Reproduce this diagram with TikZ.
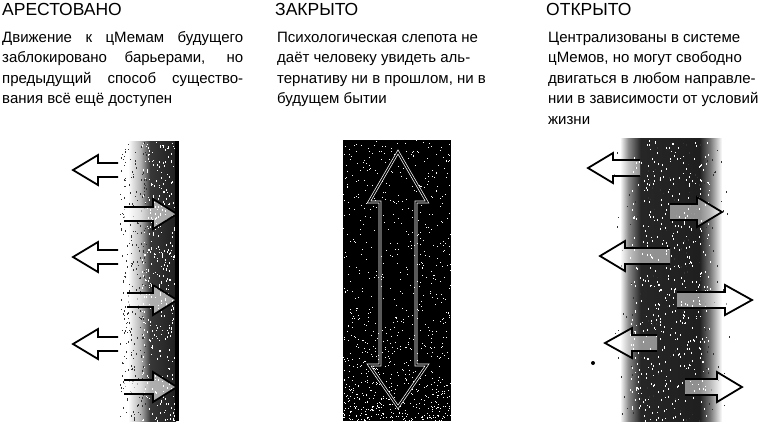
\documentclass[tikz,border=0pt]{standalone}
\usepackage{fontspec}
\setmainfont{Liberation Sans}
\pgfdeclarehorizontalshading{wallshade}{100bp}{color(0bp)=(white); color(25bp)=(white); color(38bp)=(black!30); color(48bp)=(black!78); color(75bp)=(black!88); color(100bp)=(black!88)}
\pgfdeclarehorizontalshading{bandshade}{100bp}{color(0bp)=(white); color(25bp)=(white); color(29bp)=(black!45); color(35bp)=(black!85); color(64bp)=(black!88); color(69bp)=(black!55); color(75bp)=(white); color(100bp)=(white)}
\newcommand\hArrow[6][]{%
  \filldraw[arr,#1] (#4,#5-#6) -- (#3,#5-#6) -- (#3,#5-15) -- (#2,#5) -- (#3,#5+15) -- (#3,#5+#6) -- (#4,#5+#6);}
\begin{document}
\begin{tikzpicture}[x=1pt,y=-1pt]
\tikzset{
  title/.style={anchor=base west, inner sep=0pt, font=\fontsize{17.5}{20}\selectfont},
  body/.style={anchor=base west, inner sep=0pt, align=left, font=\fontsize{15}{20.5}\selectfont},
  arr/.style={draw=black, line width=1.8pt, fill=white, line join=miter},
  speck/.style={fill=white},
}
\useasboundingbox (0,0) rectangle (758,421);
\fill[white] (0,0) rectangle (758,421);

% ---- texts (base anchor = baseline of last line)
\node[title] (t1) at (2,15) {АРЕСТОВАНО};
\node[title] (t2) at (275,15) {ЗАКРЫТО};
\node[title] (t3) at (546,15) {ОТКРЫТО};

\node[body] (b1) at (2,103.5) {\makebox[241pt][s]{Движение к цМемам будущего}\\
\makebox[241pt][s]{заблокировано барьерами, но}\\
\makebox[241pt][s]{предыдущий способ существо-}\\
вания всё ещё доступен};
\node[body] (b2) at (277,103.5) {Психологическая слепота не\\
даёт человеку увидеть аль-\\
тернативу ни в прошлом, ни в\\
будущем бытии};
\node[body] (b3) at (548,124) {Централизованы в системе\\
цМемов, но могут свободно\\
двигаться в любом направле-\\
нии в зависимости от условий\\
жизни};

% ---- panel 1: wall
\shade[shading=wallshade] (128,141) rectangle (176,421);
\pgfmathsetseed{11}
\foreach \i in {1,...,400}{\fill[white] ({142+34*rnd},{141+280*rnd}) rectangle ++(0.9,1.6);}
\foreach \i in {1,...,250}{\fill[black!80] ({120+26*rnd},{141+280*rnd}) rectangle ++(0.8,1.6);}
\fill[black] (175,141) rectangle (178.5,421);

\hArrow{73}{98}{118}{170}{7}
\hArrow{73}{98}{118}{257}{7}
\hArrow{73}{98}{118}{344}{7}
\hArrow[fill opacity=0.6]{177}{153}{124}{214}{7}
\hArrow[fill opacity=0.6]{177}{153}{127}{300}{7}
\hArrow[fill opacity=0.6]{177}{153}{124}{387}{7}

% ---- panel 2: closed block
\fill[black] (343,140) rectangle (451,421);
\pgfmathsetseed{5}
\foreach \i in {1,...,600}{\fill[speck] ({343+108*rnd},{140+281*rnd}) rectangle ++(0.9,0.9);}
\foreach \i in {1,...,300}{\fill[speck] ({343+108*rnd},{421-120*rnd*rnd}) rectangle ++(0.9,0.9);}
\draw[draw=white, double=black, double distance=1.3pt, line width=0.7pt, line join=miter]
  (380,202) -- (369,202) -- (398,152) -- (427,202) -- (416,202)
  -- (416,365) -- (427,365) -- (398,407) -- (369,365) -- (380,365) -- cycle;

% ---- panel 3: open band
\shade[shading=bandshade] (620,138) rectangle (722,421);
\pgfmathsetseed{23}
\foreach \i in {1,...,500}{\fill[white] ({630+80*rnd},{138+283*rnd}) rectangle ++(0.9,1.8);}
\foreach \i in {1,...,150}{\fill[black!80] ({612+118*rnd},{138+283*rnd}) rectangle ++(0.8,1.6);}

\hArrow[fill opacity=0.5]{588}{613}{640}{168}{8}
\hArrow[fill opacity=0.5]{600}{625}{670}{256}{8}
\hArrow[fill opacity=0.5]{605}{632}{657}{343}{8}
\hArrow[fill opacity=0.5]{722}{697}{670}{212}{8}
\hArrow[fill opacity=0.5]{752}{725}{677}{300}{8}
\hArrow[fill opacity=0.5]{742}{717}{685}{387}{8}
\fill[black] (593,363) circle (2);
\end{tikzpicture}
\end{document}
